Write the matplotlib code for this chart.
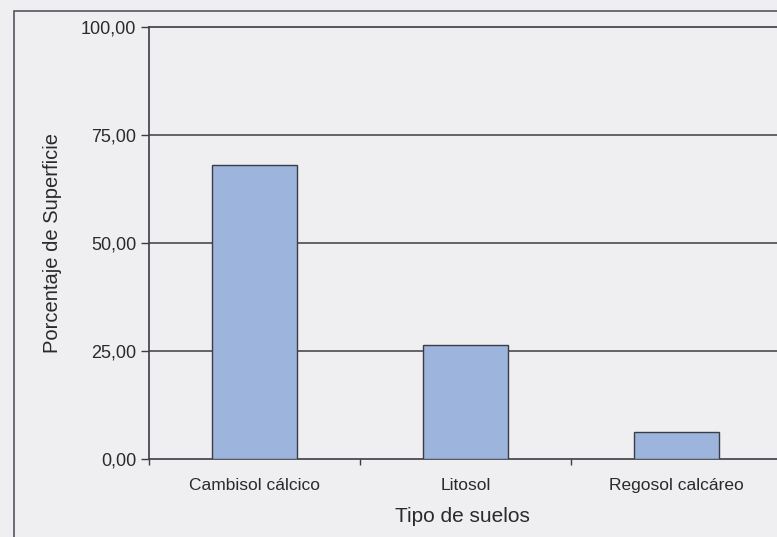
import matplotlib
matplotlib.use("Agg")
import matplotlib.pyplot as plt
from matplotlib.patches import Rectangle
from matplotlib.ticker import FixedLocator, FuncFormatter

# ********** Data *************************************************************

suelos = ["Cambisol cálcico", "Litosol", "Regosol calcáreo"]
porcentaje = [68.0, 26.5, 6.3]
yticks = [0, 25, 50, 75, 100]

# ********** Style ************************************************************

plt.rcParams["font.family"] = ["Liberation Sans", "DejaVu Sans"]
bg = "#efeff2"
dark = "#3c3c44"
textColor = "#2a2a2a"
barColor = "#9db4dd"

fig = plt.figure(figsize=(7.77, 5.37), dpi=100, facecolor=bg)

# outer frame around the whole chart (runs past the bottom and right edges)
fig.patches.append(Rectangle((14 / 777, -0.2), 1.2, 1.2 - 11 / 537,
                             transform=fig.transFigure, fill=False,
                             edgecolor="#555560", linewidth=1.2))

axis = fig.add_axes([149 / 777, 1 - 459 / 537, 633 / 777, 432 / 537])
axis.set_facecolor(bg)

# ********** Plot *************************************************************

x = range(len(suelos))
axis.bar(x, porcentaje, width=0.4, color=barColor, edgecolor=dark,
         linewidth=1.0, zorder=3)

axis.set_xlim(-0.5, len(suelos) - 0.5)
axis.set_ylim(0, 100)

# horizontal grid
for v in yticks[1:-1]:
    axis.axhline(v, color=dark, linewidth=1.1, zorder=1)

axis.set_yticks(yticks)
axis.yaxis.set_major_formatter(FuncFormatter(lambda v, p: "{:.2f}".format(v).replace(".", ",")))
axis.tick_params(axis="y", length=6, width=1.0, color=dark, pad=3,
                 labelsize=13, labelcolor=textColor)

axis.set_xticks(list(x))
axis.set_xticklabels(suelos)
axis.tick_params(axis="x", which="major", length=0, pad=14,
                 labelsize=12.5, labelcolor=textColor)
axis.xaxis.set_minor_locator(FixedLocator([-0.5, 0.5, 1.5, 2.5]))
axis.tick_params(axis="x", which="minor", length=4, width=1.0, color=dark)

for side in ["left", "bottom", "top"]:
    axis.spines[side].set_color(dark)
    axis.spines[side].set_linewidth(1.2)
axis.spines["right"].set_visible(False)

axis.set_ylabel("Porcentaje de Superficie", fontsize=14.5, color=textColor, labelpad=14)
axis.set_xlabel("Tipo de suelos", fontsize=15, color=textColor)
axis.xaxis.set_label_coords(313 / 633, -48 / 432)

fig.savefig("out.png", dpi=100, facecolor=bg)
